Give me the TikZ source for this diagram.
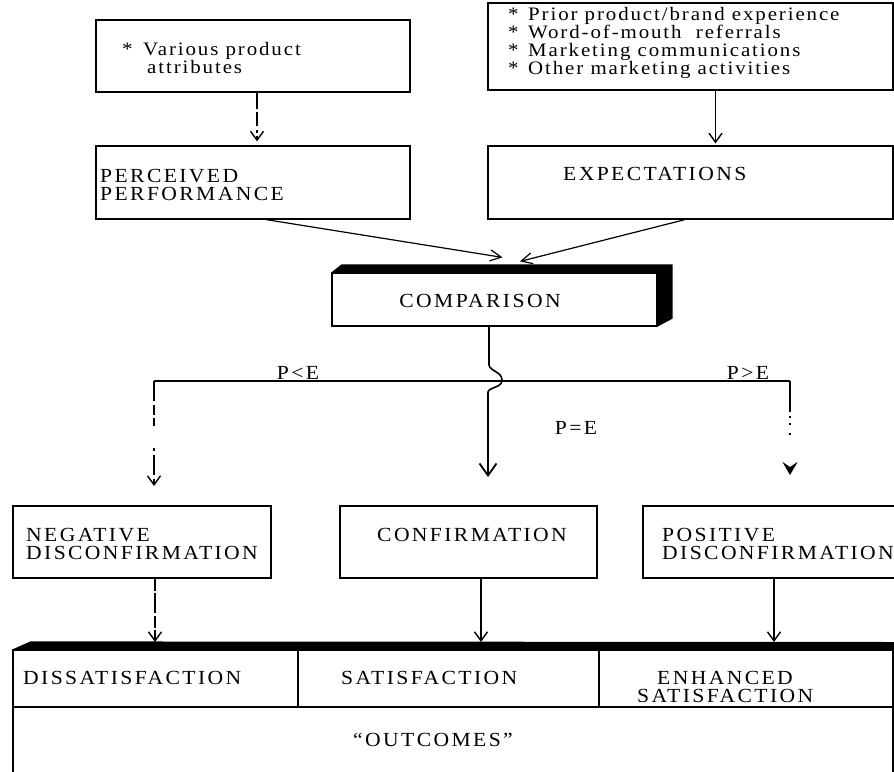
\documentclass[tikz,border=0pt]{standalone}
\usepackage{fontspec}
\setmainfont{Liberation Serif}
\newfontfamily\spcaps[LetterSpace=12,FakeStretch=1.08]{Liberation Serif}
\newfontfamily\splower[LetterSpace=10,FakeStretch=1.1]{Liberation Serif}
\usetikzlibrary{arrows.meta}
% keep the fixed leading even where lines of text nearly touch
\setlength{\lineskiplimit}{-30pt}

\tikzset{
  box/.style={draw, line width=1.2pt, inner sep=0pt},
  capstext/.style={inner sep=0pt, align=left,
    font=\spcaps\fontsize{20}{18}\selectfont},
  lowtext/.style={inner sep=0pt, align=left,
    font=\splower\fontsize{19}{17.7}\selectfont},
  link/.style={line width=1.2pt},
  vtip/.style={-{Straight Barb[length=9pt,width=13pt,line width=1.4pt]}},
  bigtip/.style={-{Straight Barb[length=12pt,width=17pt,line width=1.8pt]}},
  slanttip/.style={-{Straight Barb[length=11pt,width=11pt,line width=1.2pt]}},
  filltip/.style={-{Stealth[length=13pt,width=15pt,inset=5pt]}},
  brokenA/.style={dash pattern=on 16pt off 3pt on 14pt off 4pt on 3pt off 3pt},
  brokenL/.style={dash pattern=on 20pt off 4pt on 10pt off 3pt on 8pt off 22pt on 3pt off 4pt},
  brokenR/.style={dash pattern=on 31pt off 4pt on 2pt off 5pt on 2pt off 8pt on 2pt off 40pt},
  brokenN/.style={dash pattern=on 12pt off 2pt on 20pt off 3pt}
}

\begin{document}
\begin{tikzpicture}[x=1pt,y=-1pt]
\useasboundingbox[fill=white] (0,0) rectangle (894,771);

% --- inputs -------------------------------------------------------------
% (multi-line texts are placed by the baseline of their last line)
\node[box, minimum width=314pt, minimum height=72pt] (attr) at (253,56) {};
\node[box, minimum width=405pt, minimum height=87pt] (ante) at (690.5,46.5) {};
\node[lowtext, anchor=base west] (attrtxt) at (122,73)
  {\makebox[21pt][l]{*}Various product\\\hspace*{25pt}attributes};
\node[lowtext, anchor=base west] (antetxt) at (508,74)
  {\makebox[20pt][l]{*}Prior product/brand experience\\
   \makebox[20pt][l]{*}Word-of-mouth\ \ referrals\\
   \makebox[20pt][l]{*}Marketing communications\\
   \makebox[20pt][l]{*}Other marketing activities};

% --- perceived performance and expectations ------------------------------
\node[box, minimum width=314pt, minimum height=73pt] (perc) at (253,182.5) {};
\node[box, minimum width=405pt, minimum height=73pt] (expe) at (690.5,182.5) {};
\node[capstext, anchor=base west] (perctxt) at (100,200)
  {PERCEIVED\\PERFORMANCE};
\node[capstext, anchor=base west] (expetxt) at (563,180) {EXPECTATIONS};

\draw[link, brokenA, vtip, shorten >=4pt] ([xshift=4pt]attr.south) -- ([xshift=4pt]perc.north);
\draw[link, vtip, shorten >=2pt] ([xshift=25pt]ante.south) -- ([xshift=25pt]expe.north);

% --- comparison (raised box) ---------------------------------------------
\node[box, minimum width=325pt, minimum height=53pt] (comp) at (494.5,299.5) {};
\fill (comp.north west) -- ++(10,-8) -- ([shift={(15,-8)}]comp.north east)
      -- ([shift={(15,-8)}]comp.south east) -- (comp.south east)
      -- (comp.north east) -- cycle;
\draw[line width=1.2pt] (comp.north west) rectangle (comp.south east);
\node[capstext, anchor=base] (comptxt) at (480,307) {COMPARISON};

\draw[link, slanttip] ([xshift=13pt]perc.south) -- ([xshift=8pt,yshift=15pt]comp.north);
\draw[link, slanttip] ([xshift=-5.5pt]expe.south) -- ([xshift=25.5pt,yshift=11pt]comp.north);

% --- branches ------------------------------------------------------------
\coordinate (brL) at (154,381);
\coordinate (brR) at (790,381);
\coordinate (tipL) at (154,486);
\coordinate (tipM) at (488,477);
\coordinate (tipR) at (790,475);

\draw[link] (brL) -- (brR);
\draw[link, brokenL, vtip] (brL) -- (tipL);
\draw[link, brokenR, filltip] (brR) -- (tipR);
\draw[line width=1.6pt, bigtip] ([xshift=-5.5pt]comp.south) -- (489,365)
  .. controls (490,371) and (502,372) .. (502,380)
  .. controls (502,388) and (489,387) .. (488,392) -- (tipM);

\node[capstext, anchor=base] (lt) at (298,379) {P<E};
\node[capstext, anchor=base] (gt) at (748,379) {P>E};
\node[capstext, anchor=base] (eq) at (576,434) {P=E};

% --- disconfirmation boxes ----------------------------------------------
\node[box, minimum width=258pt, minimum height=72pt] (neg) at (142,542) {};
\node[box, minimum width=257pt, minimum height=72pt] (conf) at (468.5,542) {};
\node[box, minimum width=262pt, minimum height=72pt] (pos) at (774,542) {};
\node[capstext, anchor=base west] (negtxt) at (26,559)
  {NEGATIVE\\DISCONFIRMATION};
\node[capstext, anchor=base] (conftxt) at (472,541) {CONFIRMATION};
\node[capstext, anchor=base west] (postxt) at (662,559)
  {POSITIVE\\DISCONFIRMATION};

% --- outcomes (raised box) -----------------------------------------------
\node[box, minimum width=285pt, minimum height=57pt] (dis) at (155.5,678.5) {};
\node[box, minimum width=301pt, minimum height=57pt] (sat) at (448.5,678.5) {};
\node[box, minimum width=294pt, minimum height=57pt] (enh) at (746,678.5) {};
\node[box, minimum width=880pt, minimum height=66pt] (out) at (453,740) {};
\fill (dis.north west) -- ++(18,-8) -- (896,642) -- (896,650) -- cycle;

\node[capstext, anchor=base west] (distxt) at (23,684) {DISSATISFACTION};
\node[capstext, anchor=base west] (sattxt) at (341,684) {SATISFACTION};
\node[capstext, anchor=base west] (enhtxt) at (637,702)
  {\hspace*{20pt}ENHANCED\\SATISFACTION};
\node[capstext, anchor=base] (outtxt) at (433,746) {“OUTCOMES”};

\coordinate (bartop) at (0,642);
\draw[link, brokenN, vtip] ([xshift=13pt]neg.south) -- ([xshift=13pt]neg.south |- bartop);
\draw[link, vtip] ([xshift=12.5pt]conf.south) -- ([xshift=12.5pt]conf.south |- bartop);
\draw[link, vtip] (pos.south) -- (pos.south |- bartop);
\end{tikzpicture}
\end{document}
